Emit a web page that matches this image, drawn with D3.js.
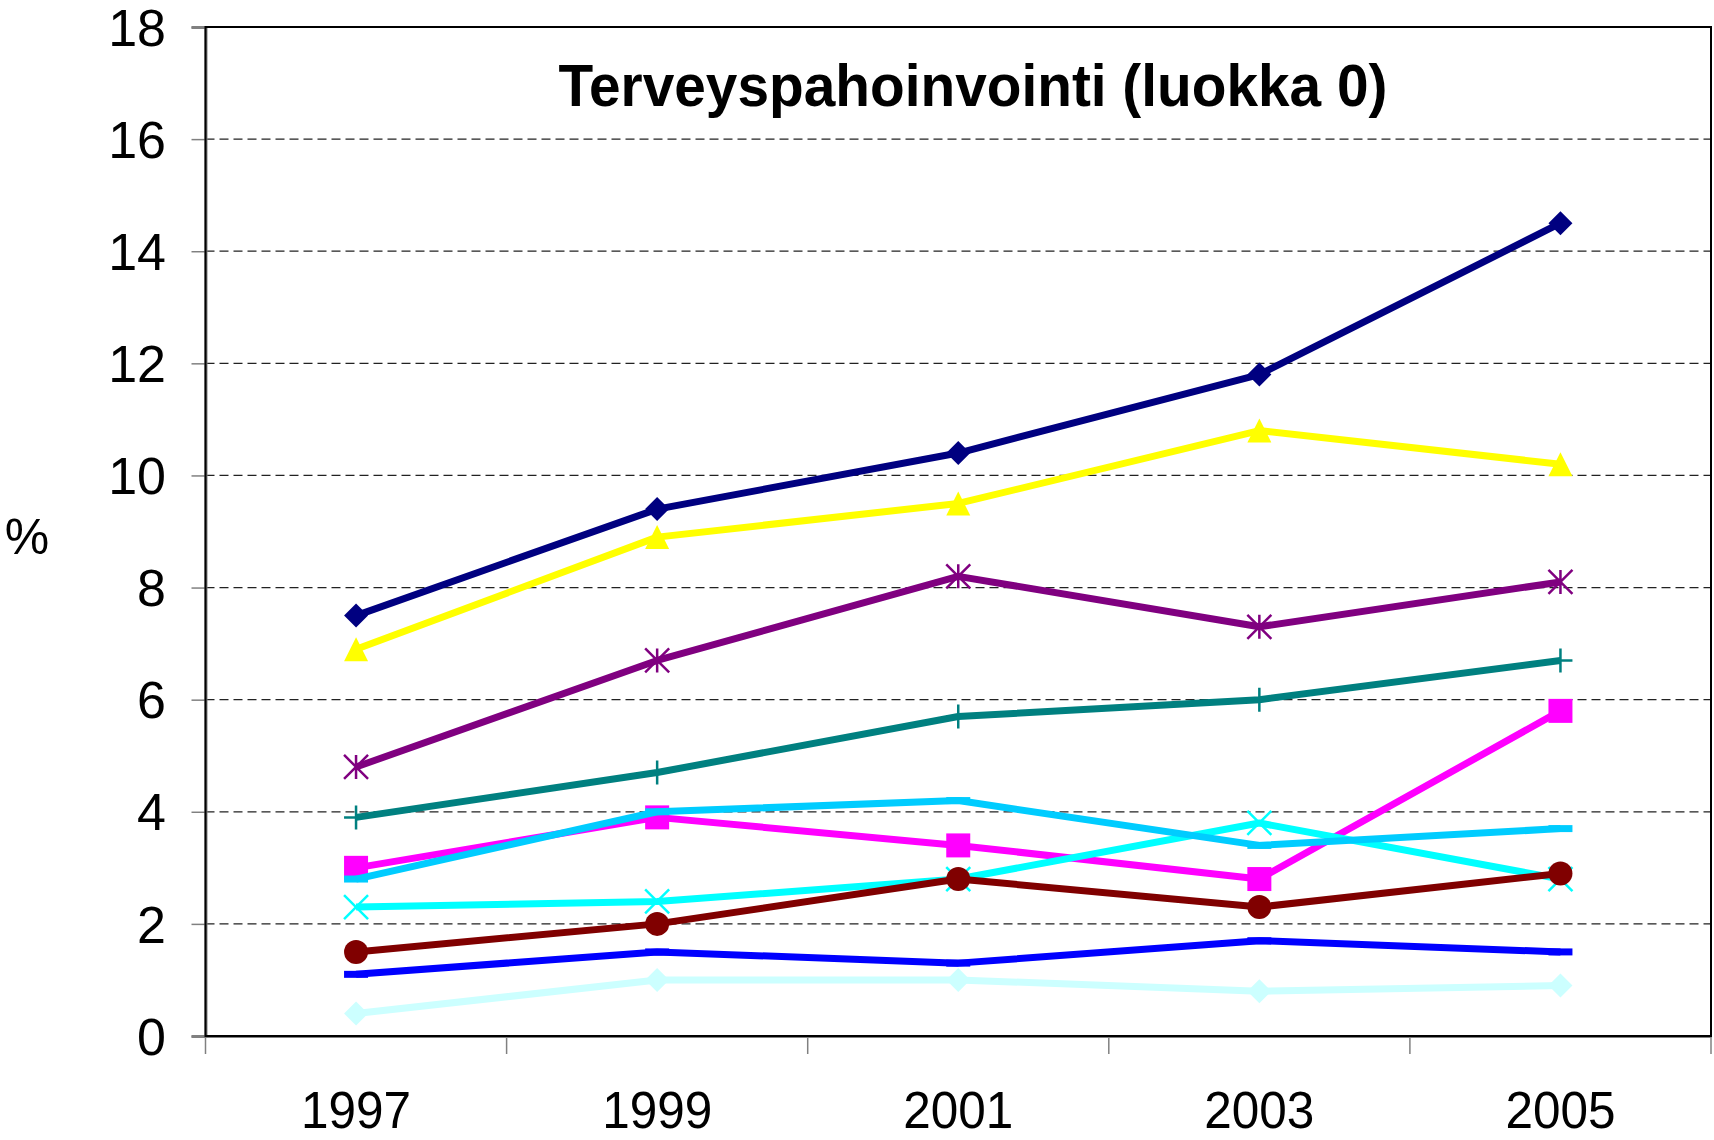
<!DOCTYPE html>
<html>
<head>
<meta charset="utf-8">
<script src="https://cdn.jsdelivr.net/npm/d3@7"></script>
<style>
  html, body { margin: 0; padding: 0; background: #fff; }
  svg { display: block; font-family: "Liberation Sans", Arial, sans-serif; }
</style>
</head>
<body>
<svg id="chart" width="1714" height="1140"></svg>
<script>
// chart data
const years = ["1997", "1999", "2001", "2003", "2005"];
const yTicks = [0, 2, 4, 6, 8, 10, 12, 14, 16, 18];
const title = "Terveyspahoinvointi (luokka 0)";

const navySeries     = [7.5, 9.4, 10.4, 11.8, 14.5];
const yellowSeries   = [6.9, 8.9, 9.5, 10.8, 10.2];
const purpleSeries   = [4.8, 6.7, 8.2, 7.3, 8.1];
const tealSeries     = [3.9, 4.7, 5.7, 6.0, 6.7];
const magentaSeries  = [3.0, 3.9, 3.4, 2.8, 5.8];
const skySeries      = [2.8, 4.0, 4.2, 3.4, 3.7];
const cyanSeries     = [2.3, 2.4, 2.8, 3.8, 2.8];
const darkRedSeries  = [1.5, 2.0, 2.8, 2.3, 2.9];
const blueSeries     = [1.1, 1.5, 1.3, 1.7, 1.5];
const paleSeries     = [0.4, 1.0, 1.0, 0.8, 0.9];

// drawing order (later ones on top)
const series = [
  { values: navySeries,    color: "#000080", marker: "diamond" },
  { values: yellowSeries,  color: "#FFFF00", marker: "triangle" },
  { values: purpleSeries,  color: "#800080", marker: "asterisk" },
  { values: tealSeries,    color: "#008080", marker: "plus" },
  { values: magentaSeries, color: "#FF00FF", marker: "square" },
  { values: cyanSeries,    color: "#00FFFF", marker: "x" },
  { values: skySeries,     color: "#00CCFF", marker: "dash" },
  { values: darkRedSeries, color: "#800000", marker: "circle" },
  { values: blueSeries,    color: "#0000FF", marker: "dash" },
  { values: paleSeries,    color: "#CCFFFF", marker: "diamond" }
];

const svg = d3.select("#chart");
const plot = { left: 205.5, right: 1711, top: 27, bottom: 1036 };
const lineW = 7;

const x = d3.scaleBand().domain(years).range([plot.left, plot.right]).padding(0);
const y = d3.scaleLinear().domain([0, 18]).range([plot.bottom, plot.top]);
const cx = (yr) => x(yr) + x.bandwidth() / 2;

// gridlines
svg.append("g")
  .selectAll("line")
  .data(yTicks.filter((t) => t > 0 && t < 18))
  .join("line")
  .attr("x1", plot.left).attr("x2", plot.right)
  .attr("y1", (d) => y(d)).attr("y2", (d) => y(d))
  .attr("stroke", "#222")
  .attr("stroke-width", 1.2)
  .attr("stroke-dasharray", "9,5");

// axes (gray) under the black frame
const yAxis = d3.axisLeft(y).tickValues(yTicks).tickSize(14).tickFormat("");
const yAxisG = svg.append("g").attr("transform", `translate(${plot.left},0)`).call(yAxis);
yAxisG.select(".domain").attr("stroke", "#808080").attr("stroke-width", 3);
yAxisG.selectAll(".tick line").attr("stroke", "#808080").attr("stroke-width", 1.5);

const xAxis = d3.axisBottom(x).tickSize(0).tickFormat("");
const xAxisG = svg.append("g").attr("transform", `translate(0,${plot.bottom})`).call(xAxis);
xAxisG.select(".domain").attr("stroke", "#808080").attr("stroke-width", 3);

// category boundary ticks
const bounds = years.map((yr) => x(yr)).concat([plot.right]);
svg.append("g")
  .selectAll("line")
  .data(bounds)
  .join("line")
  .attr("x1", (d) => d).attr("x2", (d) => d)
  .attr("y1", plot.bottom).attr("y2", plot.bottom + 18)
  .attr("stroke", "#808080")
  .attr("stroke-width", 1.5);

// plot frame
svg.append("rect")
  .attr("x", plot.left).attr("y", plot.top)
  .attr("width", plot.right - plot.left)
  .attr("height", plot.bottom - plot.top)
  .attr("fill", "none")
  .attr("stroke", "#000")
  .attr("stroke-width", 2);

// y tick labels
svg.append("g")
  .selectAll("text")
  .data(yTicks)
  .join("text")
  .attr("x", 166)
  .attr("y", (d) => y(d))
  .attr("dy", "0.36em")
  .attr("text-anchor", "end")
  .attr("font-size", 52)
  .text((d) => d);

// x labels
svg.append("g")
  .selectAll("text")
  .data(years)
  .join("text")
  .attr("x", (d) => cx(d))
  .attr("y", 1128)
  .attr("text-anchor", "middle")
  .attr("font-size", 52)
  .attr("textLength", 110)
  .attr("lengthAdjust", "spacingAndGlyphs")
  .text((d) => d);

// y axis title
svg.append("text")
  .attr("x", 27).attr("y", 536)
  .attr("dy", "0.36em")
  .attr("text-anchor", "middle")
  .attr("font-size", 50)
  .text("%");

// chart title
svg.append("text")
  .attr("x", 973).attr("y", 106)
  .attr("text-anchor", "middle")
  .attr("font-size", 60)
  .attr("font-weight", "bold")
  .attr("textLength", 829)
  .attr("lengthAdjust", "spacingAndGlyphs")
  .text(title);

// markers
const s = 12;
function markerPath(type) {
  switch (type) {
    case "diamond": return `M0,${-s}L${s},0L0,${s}L${-s},0Z`;
    case "triangle": return `M0,${-s}L${s},${s}L${-s},${s}Z`;
    case "square": return `M${-s},${-s}H${s}V${s}H${-s}Z`;
    case "asterisk": return `M${-s},${-s}L${s},${s}M${-s},${s}L${s},${-s}M0,${-s}V${s}`;
    case "x": return `M${-s},${-s}L${s},${s}M${-s},${s}L${s},${-s}`;
    case "plus": return `M0,${-s}V${s}M${-s},0H${s}`;
    case "dash": return `M${-s},0H${s}`;
    default: return "";
  }
}
const stroked = new Set(["asterisk", "x", "plus", "dash"]);

const line = d3.line()
  .x((d, i) => cx(years[i]))
  .y((d) => y(d));

series.forEach((ser) => {
  const g = svg.append("g");
  g.append("path")
    .datum(ser.values)
    .attr("d", line)
    .attr("fill", "none")
    .attr("stroke", ser.color)
    .attr("stroke-width", lineW)
    .attr("stroke-linejoin", "round");

  if (ser.marker === "circle") {
    g.selectAll("circle")
      .data(ser.values)
      .join("circle")
      .attr("cx", (d, i) => cx(years[i]))
      .attr("cy", (d) => y(d))
      .attr("r", s)
      .attr("fill", ser.color);
  } else {
    const isStroke = stroked.has(ser.marker);
    g.selectAll("path.mk")
      .data(ser.values)
      .join("path")
      .attr("class", "mk")
      .attr("transform", (d, i) => `translate(${cx(years[i])},${y(d)})`)
      .attr("d", markerPath(ser.marker))
      .attr("fill", isStroke ? "none" : ser.color)
      .attr("stroke", isStroke ? ser.color : "none")
      .attr("stroke-width", ser.marker === "dash" ? lineW : 2.5);
  }
});
</script>
</body>
</html>
